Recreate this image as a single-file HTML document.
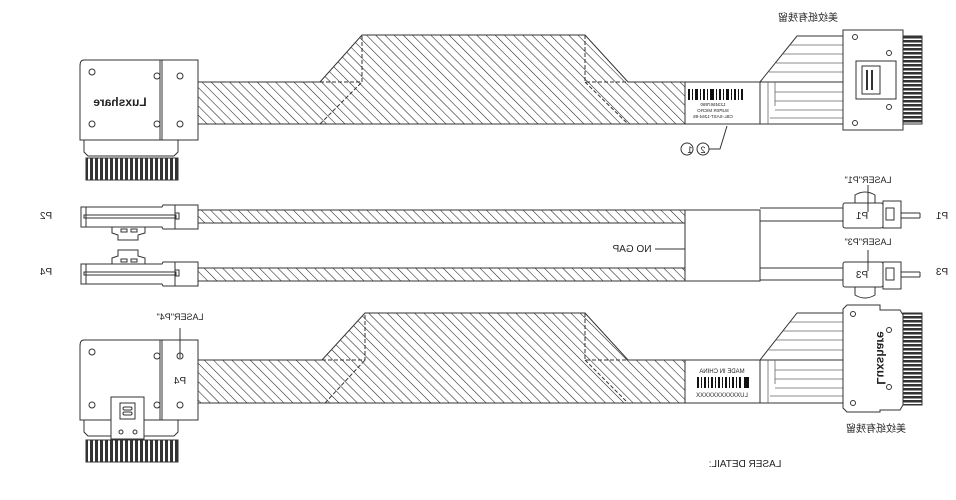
<!DOCTYPE html>
<html><head><meta charset="utf-8"><style>
html,body{margin:0;padding:0;background:#fff;}
svg{display:block;}
text{font-family:"Liberation Sans","Noto Sans CJK SC",sans-serif;fill:#222;}
</style></head><body>
<svg width="956" height="500" viewBox="0 0 956 500" xmlns="http://www.w3.org/2000/svg">
<defs>
<pattern id="h" width="6.5" height="6.5" patternUnits="userSpaceOnUse" patternTransform="rotate(-45)">
<rect width="6.5" height="6.5" fill="#fff"/><line x1="0" y1="0" x2="0" y2="6.5" stroke="#222" stroke-width="1.1"/>
</pattern>
<pattern id="pins" width="5" height="10" patternUnits="userSpaceOnUse">
<rect width="5" height="10" fill="#fff"/><rect x="0" y="0" width="3" height="10" fill="#333"/>
</pattern>
<pattern id="pinsv" width="10" height="4" patternUnits="userSpaceOnUse">
<rect width="10" height="4" fill="#fff"/><rect x="0" y="0" width="10" height="2.5" fill="#333"/>
</pattern>
</defs>
<g stroke="#333" stroke-width="1" fill="none">

<!-- ===== TOP ASSEMBLY ===== -->
<path d="M198 82 L320 82 L362 35 L585 35 L628 82 L685 82 L685 124 L198 124 Z" fill="url(#h)"/>
<path d="M320 82 L362 82 L362 35 M320 124 L362 82" stroke-dasharray="4 2"/>
<path d="M585 35 L585 82 L628 82 M585 82 L628 124" stroke-dasharray="4 2"/>
<path d="M84 60 L198 60 L198 140 L80 140 L80 66 Q80 60 84 60 Z" fill="#fff"/>
<line x1="160" y1="60" x2="160" y2="140"/><line x1="162" y1="60" x2="162" y2="140"/>
<circle cx="92" cy="72" r="3"/><circle cx="157" cy="76" r="3"/><circle cx="180" cy="76" r="3"/>
<circle cx="92" cy="124" r="3"/><circle cx="157" cy="124" r="3"/><circle cx="180" cy="124" r="3"/>
<path d="M84 140 L84 152 L88 156 L174 156 L178 152 L178 140"/>
<rect x="86" y="158" width="92" height="22" fill="url(#pins)"/>
<rect x="86" y="158" width="92" height="22"/>
<rect x="685" y="82" width="75" height="42" fill="#fff"/>
<path d="M760 82 L797 36 L843 36 M760 124 L843 124 M760 82 L843 82"/>
<g stroke="#666" stroke-width="0.8">
<line x1="790" y1="45" x2="843" y2="45"/><line x1="783" y1="54" x2="843" y2="54"/><line x1="776" y1="63" x2="843" y2="63"/><line x1="769" y1="72" x2="843" y2="72"/>
<line x1="775" y1="92" x2="843" y2="92"/><line x1="775" y1="101" x2="843" y2="101"/><line x1="775" y1="110" x2="843" y2="110"/><line x1="770" y1="118" x2="843" y2="118"/>
<line x1="768" y1="82" x2="768" y2="124"/><line x1="775" y1="82" x2="775" y2="106"/>
</g>
<rect x="843" y="30" width="60" height="100" fill="#fff"/>
<rect x="903" y="36" width="19" height="88" fill="url(#pinsv)"/><rect x="903" y="36" width="19" height="88"/>
<circle cx="855" cy="37" r="2.5"/><circle cx="889" cy="53" r="2.5"/><circle cx="889" cy="107" r="2.5"/><circle cx="855" cy="123" r="2.5"/>
<rect x="856" y="61" width="40" height="38" fill="#fff"/><rect x="862" y="66" width="18" height="28"/>
<line x1="867" y1="70" x2="867" y2="90" stroke-width="2"/><line x1="872" y1="70" x2="872" y2="90" stroke-width="2"/>
<circle cx="687" cy="149" r="6"/><circle cx="703" cy="149" r="6"/>
<path d="M709 149 L720 149 L727 126"/>

<!-- ===== MIDDLE ===== -->
<rect x="198" y="210" width="487" height="13" fill="url(#h)"/>
<rect x="198" y="268" width="487" height="13" fill="url(#h)"/>
<rect x="685" y="210" width="75" height="71" fill="#fff"/>
<path d="M760 208 L843 208 M760 221 L843 221 M760 268 L843 268 M760 280 L843 280"/>
<path d="M81 207 L162 207 L163 205 L198 205 L198 229 L163 229 L162 227 L81 227 Z" fill="#fff"/>
<line x1="86" y1="207" x2="86" y2="227"/><rect x="84" y="215" width="92" height="3"/><rect x="175" y="213" width="4" height="6"/>
<line x1="175" y1="205" x2="175" y2="229"/>
<path d="M112 227 L112 233 L118 235 L118 240 L138 240 L138 235 L145 233 L145 227"/>
<rect x="121" y="229" width="6" height="3"/><rect x="131" y="229" width="6" height="3"/>
<path d="M81 264 L162 264 L163 262 L198 262 L198 286 L163 286 L162 284 L81 284 Z" fill="#fff"/>
<line x1="86" y1="264" x2="86" y2="284"/><rect x="84" y="272" width="92" height="3"/><rect x="175" y="270" width="4" height="6"/>
<line x1="175" y1="262" x2="175" y2="286"/>
<path d="M112 264 L112 258 L118 256 L118 250 L138 250 L138 256 L145 258 L145 264"/>
<rect x="121" y="259" width="6" height="3"/><rect x="131" y="259" width="6" height="3"/>
<rect x="843" y="203" width="40" height="25" rx="2" fill="#fff"/>
<rect x="883" y="201" width="18" height="27" fill="#fff"/><rect x="886" y="208" width="8" height="12"/>
<path d="M855 203 L855 195 Q865 189 875 195 L875 203"/>
<line x1="901" y1="213" x2="920" y2="213"/><line x1="901" y1="218" x2="920" y2="218"/><line x1="920" y1="213" x2="920" y2="218"/>
<line x1="868" y1="185" x2="868" y2="212"/>
<rect x="843" y="262" width="40" height="25" rx="2" fill="#fff"/>
<rect x="883" y="262" width="18" height="27" fill="#fff"/><rect x="886" y="268" width="8" height="12"/>
<path d="M855 287 L855 295 Q865 301 875 295 L875 287"/>
<line x1="901" y1="272" x2="920" y2="272"/><line x1="901" y1="277" x2="920" y2="277"/><line x1="920" y1="272" x2="920" y2="277"/>
<line x1="868" y1="250" x2="868" y2="271"/>
<line x1="655" y1="249" x2="685" y2="249"/>

<!-- ===== BOTTOM ASSEMBLY ===== -->
<path d="M198 360 L322 360 L365 313 L585 313 L628 360 L685 360 L685 403 L198 403 Z" fill="url(#h)"/>
<path d="M322 360 L365 360 L365 313 M325 403 L365 360" stroke-dasharray="4 2"/>
<path d="M585 313 L585 360 L628 360 M585 360 L628 403" stroke-dasharray="4 2"/>
<path d="M84 340 L198 340 L198 420 L80 420 L80 346 Q80 340 84 340 Z" fill="#fff"/>
<line x1="160" y1="340" x2="160" y2="420"/><line x1="162" y1="340" x2="162" y2="420"/>
<circle cx="92" cy="352" r="3"/><circle cx="157" cy="356" r="3"/><circle cx="180" cy="356" r="3"/>
<circle cx="92" cy="405" r="3"/><circle cx="157" cy="405" r="3"/><circle cx="180" cy="405" r="3"/>
<line x1="180" y1="328" x2="180" y2="358"/>
<path d="M84 420 L84 432 L88 436 L174 436 L178 432 L178 420"/>
<rect x="111" y="397" width="33" height="42" fill="#fff"/><rect x="120" y="403" width="15" height="16"/>
<rect x="123" y="407" width="9" height="3" rx="1.5"/><rect x="123" y="412" width="9" height="3" rx="1.5"/>
<circle cx="121" cy="432" r="2"/><circle cx="135" cy="432" r="2"/>
<rect x="86" y="440" width="92" height="22" fill="url(#pins)"/><rect x="86" y="440" width="92" height="22"/>
<rect x="685" y="360" width="75" height="43" fill="#fff"/>
<path d="M760 360 L797 313 L843 313 M760 403 L843 403 M760 360 L843 360"/>
<g stroke="#666" stroke-width="0.8">
<line x1="790" y1="322" x2="843" y2="322"/><line x1="783" y1="331" x2="843" y2="331"/><line x1="776" y1="340" x2="843" y2="340"/><line x1="769" y1="350" x2="843" y2="350"/>
<line x1="775" y1="370" x2="843" y2="370"/><line x1="775" y1="379" x2="843" y2="379"/><line x1="775" y1="388" x2="843" y2="388"/><line x1="770" y1="396" x2="843" y2="396"/>
<line x1="768" y1="360" x2="768" y2="403"/><line x1="775" y1="360" x2="775" y2="384"/>
</g>
<path d="M847 305 L880 305 L880 310 L900 310 L903 315 L903 405 L900 410 L880 410 L880 412 L847 412 L843 408 L843 309 Z" fill="#fff"/>
<rect x="903" y="313" width="19" height="92" fill="url(#pinsv)"/><rect x="903" y="313" width="19" height="92"/>
<circle cx="853" cy="314" r="2.5"/><circle cx="889" cy="330" r="2.5"/><circle cx="889" cy="387" r="2.5"/><circle cx="853" cy="403" r="2.5"/>
</g>

<g fill="#111">
<rect x="688" y="89" width="2" height="11"/><rect x="692" y="89" width="1" height="11"/><rect x="695" y="89" width="3" height="11"/><rect x="700" y="89" width="1" height="11"/><rect x="703" y="89" width="2" height="11"/><rect x="707" y="89" width="1" height="11"/><rect x="710" y="89" width="4" height="11"/><rect x="716" y="89" width="1" height="11"/><rect x="719" y="89" width="2" height="11"/><rect x="723" y="89" width="1" height="11"/><rect x="726" y="89" width="3" height="11"/><rect x="731" y="89" width="1" height="11"/><rect x="734" y="89" width="2" height="11"/><rect x="738" y="89" width="1" height="11"/><rect x="741" y="89" width="2" height="11"/>
<rect x="697" y="377" width="2" height="11"/><rect x="701" y="377" width="1" height="11"/><rect x="704" y="377" width="2" height="11"/><rect x="708" y="377" width="1" height="11"/><rect x="711" y="377" width="2" height="11"/><rect x="715" y="377" width="1" height="11"/><rect x="718" y="377" width="2" height="11"/><rect x="722" y="377" width="1" height="11"/><rect x="725" y="377" width="2" height="11"/><rect x="729" y="377" width="1" height="11"/><rect x="732" y="377" width="2" height="11"/><rect x="736" y="377" width="1" height="11"/><rect x="739" y="377" width="2" height="11"/><rect x="744" y="377" width="5" height="11"/>
</g>

<g font-size="9" text-anchor="middle">
<text transform="translate(808,21) scale(-1,1)" font-size="10">美纹纸有残留</text>
<text transform="translate(876,432) scale(-1,1)" font-size="10">美纹纸有残留</text>
<text transform="translate(713,106) scale(-1,1)" font-size="4.5">1234567890</text>
<text transform="translate(713,112) scale(-1,1)" font-size="4.5">SUPER MICRO</text>
<text transform="translate(713,118) scale(-1,1)" font-size="4.5">CBL-SAST-1264-85</text>
<text transform="translate(722,373) scale(-1,1)" font-size="6">MADE IN CHINA</text>
<text transform="translate(722,397) scale(-1,1)" font-size="6">LUXXXXXXXXXXX</text>
<text transform="translate(690,153) scale(-1,1)" font-size="9">1</text>
<text transform="translate(703,153) scale(-1,1)" font-size="9">2</text>
<text transform="translate(120,106) scale(-1,1)" font-size="12" font-weight="bold" fill="#444">Luxshare</text>
<text transform="translate(877,358) rotate(90) scale(-1,1)" font-size="12" font-weight="bold" fill="#444">Luxshare</text>
<text transform="translate(868,183) scale(-1,1)">LASER"P1"</text>
<text transform="translate(868,245) scale(-1,1)">LASER"P3"</text>
<text transform="translate(180,320) scale(-1,1)">LASER"P4"</text>
<text transform="translate(180,384) scale(-1,1)" font-size="10">P4</text>
<text transform="translate(862,219) scale(-1,1)" font-size="10">P1</text>
<text transform="translate(862,278) scale(-1,1)" font-size="10">P3</text>
<text transform="translate(942,219) scale(-1,1)" font-size="10">P1</text>
<text transform="translate(942,275) scale(-1,1)" font-size="10">P3</text>
<text transform="translate(46,219) scale(-1,1)" font-size="10">P2</text>
<text transform="translate(46,275) scale(-1,1)" font-size="10">P4</text>
<text transform="translate(632,252) scale(-1,1)" font-size="10">NO GAP</text>
<text transform="translate(745,467) scale(-1,1)" font-size="10">LASER DETAIL:</text>
</g>
</svg>
</body></html>
